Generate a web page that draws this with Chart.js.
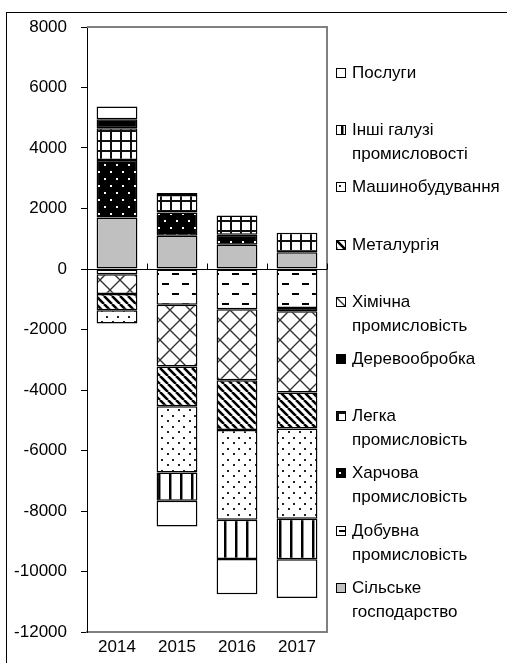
<!DOCTYPE html>
<html>
<head>
<meta charset="utf-8">
<script src="https://cdn.jsdelivr.net/npm/chart.js@4"></script>
<style>
  body { margin: 0; background: #fff; font-family: "Liberation Sans", Arial, sans-serif; }
  #wrap { position: relative; width: 507px; height: 663px; overflow: hidden; }
  #frame { position: absolute; left: 6px; top: 12px; width: 600px; height: 700px;
           border-left: 1px solid #000; border-top: 1px solid #000; }
  #chart { position: absolute; left: 0; top: 0; }
  #legend { position: absolute; left: 336px; top: 0; font-size: 17px; color: #000; }
  .item { position: absolute; left: 0; width: 170px; white-space: pre-line; line-height: 24px; padding-left: 16px; }
  .mark { position: absolute; left: 0; top: 7px; width: 8px; height: 8px; border: 1px solid #000; }
</style>
</head>
<body>
<div id="wrap">
  <div id="frame"></div>
  <canvas id="chart" width="507" height="663"></canvas>
  <div id="legend"></div>
</div>
<script>
// DATA (values in the order of stacking, bottom to top)
const years = ["2014", "2015", "2016", "2017"];
const silske    = [1700, 1100, 800, 550];
const dobuvna   = [-170, -1180, -1330, -1290];
const kharchova = [1900, 770, 330, -110];
const lehka     = [1050, 580, 640, 650];
const derevo    = [300, 60, 0, 0];
const khimichna = [-660, -2040, -2350, -2680];
const metal     = [-530, -1320, -1640, -1190];
const mashyno   = [-445, -2190, -2970, -2985];
const inshi     = [0, -930, -1300, -1340];
const posluhy   = [420, -850, -1160, -1280];

const names = [
  "Сільське\nгосподарство",
  "Добувна\nпромисловість",
  "Харчова\nпромисловість",
  "Легка\nпромисловість",
  "Деревообробка",
  "Хімічна\nпромисловість",
  "Металургія",
  "Машинобудування",
  "Інші галузі\nпромисловості",
  "Послуги"
];
const yTicks = [-12000, -10000, -8000, -6000, -4000, -2000, 0, 2000, 4000, 6000, 8000];

// PATTERN TILES
function tile(w, h, draw) {
  const c = document.createElement("canvas");
  c.width = w; c.height = h;
  const g = c.getContext("2d");
  g.fillStyle = "#fff";
  g.fillRect(0, 0, w, h);
  draw(g);
  return c;
}

const tiles = [
  tile(8, 8, g => { g.fillStyle = "#c0c0c0"; g.fillRect(0, 0, 8, 8); }),
  tile(20, 20, g => { g.fillStyle = "#000"; g.fillRect(2, 3, 7, 2); g.fillRect(12, 13, 7, 2); }),
  tile(12, 14, g => { g.fillStyle = "#000"; g.fillRect(0, 0, 12, 14); g.fillStyle = "#fff";
                      g.fillRect(2, 3, 2, 2); g.fillRect(8, 10, 2, 2); }),
  tile(10, 10, g => { g.fillStyle = "#111"; g.fillRect(0, 0, 2, 10); g.fillRect(0, 0, 10, 2); }),
  tile(8, 8, g => { g.fillStyle = "#000"; g.fillRect(0, 0, 8, 8); }),
  tile(20, 20, g => { g.strokeStyle = "#333"; g.lineWidth = 1.4;
                      g.beginPath(); g.moveTo(0, 0); g.lineTo(20, 20); g.moveTo(20, 0); g.lineTo(0, 20); g.stroke(); }),
  tile(8, 8, g => { g.strokeStyle = "#000"; g.lineWidth = 2.6; g.beginPath();
                    for (let k = -1; k <= 1; k++) { g.moveTo(k * 8, 0); g.lineTo(k * 8 + 8, 8); }
                    g.stroke(); }),
  tile(11, 11, g => { g.fillStyle = "#222"; g.fillRect(2, 2, 2, 2); g.fillRect(7, 8, 2, 2); }),
  tile(11, 4, g => { g.fillStyle = "#000"; g.fillRect(4, 0, 2, 4); g.fillStyle = "#888"; g.fillRect(6, 0, 1, 4); }),
  tile(8, 8, g => {})
];

const ctx = document.getElementById("chart").getContext("2d");
const patterns = tiles.map(t => ctx.createPattern(t, "repeat"));
const series = [silske, dobuvna, kharchova, lehka, derevo, khimichna, metal, mashyno, inshi, posluhy];

const datasets = series.map((d, i) => ({
  label: names[i].replace("\n", " "),
  data: d,
  backgroundColor: patterns[i],
  borderColor: "#000",
  borderWidth: 1.5,
  borderSkipped: false,
  barPercentage: 0.68,
  categoryPercentage: 1
}));

// frame, zero line and category ticks
const framePlugin = {
  id: "frame",
  afterDatasetsDraw(chart) {
    const a = chart.chartArea;
    const c = chart.ctx;
    const y0 = Math.round(chart.scales.y.getPixelForValue(0)) + 0.5;
    c.save();
    c.strokeStyle = "#808080";
    c.lineWidth = 2;
    c.beginPath();
    c.moveTo(a.left, a.top);
    c.lineTo(a.right, a.top);
    c.lineTo(a.right, a.bottom);
    c.stroke();
    c.strokeStyle = "#000";
    c.lineWidth = 1;
    c.beginPath();
    c.moveTo(a.left, y0);
    c.lineTo(a.right, y0);
    const n = years.length;
    for (let k = 1; k <= n; k++) {
      const x = Math.round(a.left + (a.right - a.left) * k / n) + 0.5;
      c.moveTo(x, y0);
      c.lineTo(x, y0 - 6);
    }
    c.stroke();
    c.restore();
  }
};

new Chart(ctx, {
  type: "bar",
  data: { labels: years, datasets: datasets },
  options: {
    responsive: false,
    animation: false,
    layout: { padding: { left: 0, top: 27, right: 180, bottom: 0 } },
    plugins: { legend: { display: false }, tooltip: { enabled: false } },
    scales: {
      x: {
        stacked: true,
        grid: { display: false },
        border: { color: "#808080", width: 2 },
        ticks: { color: "#000", font: { family: "'Liberation Sans', Arial", size: 17 }, padding: -3 },
        afterFit(scale) { scale.height = 31; }
      },
      y: {
        stacked: true,
        min: -12000,
        max: 8000,
        afterBuildTicks(scale) { scale.ticks = yTicks.map(v => ({ value: v })); },
        grid: { drawOnChartArea: false, drawTicks: true, tickLength: 6, color: "#000" },
        border: { color: "#000", width: 1 },
        ticks: {
          color: "#000",
          font: { family: "'Liberation Sans', Arial", size: 17 },
          padding: 14,
          callback: v => String(v)
        },
        afterFit(scale) { scale.width = 87; }
      }
    }
  },
  plugins: [framePlugin]
});

// LEGEND (reverse order, as in the original)
const legend = document.getElementById("legend");
for (let i = names.length - 1; i >= 0; i--) {
  const pos = names.length - 1 - i;
  const item = document.createElement("div");
  item.className = "item";
  item.style.top = (61 + pos * 57.2) + "px";
  item.textContent = names[i];
  const m = document.createElement("span");
  m.className = "mark";
  m.style.background = "url(" + tiles[i].toDataURL() + ")";
  item.appendChild(m);
  legend.appendChild(item);
}
</script>
</body>
</html>
